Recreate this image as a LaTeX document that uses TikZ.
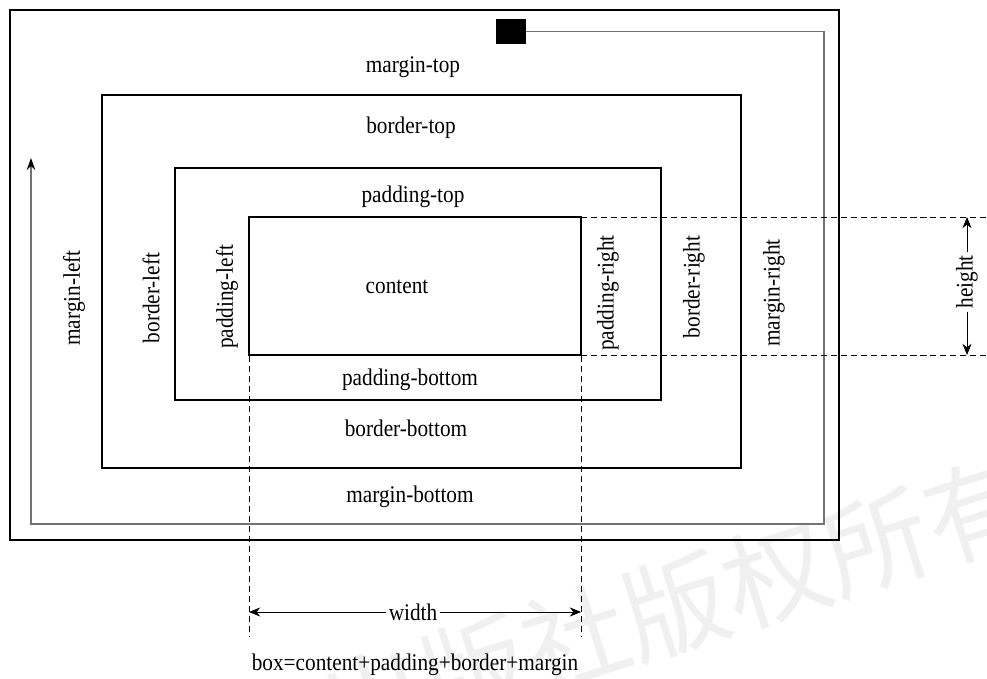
\documentclass[tikz,border=0pt]{standalone}
\usepackage{fontspec}
\setmainfont{Liberation Serif}[FakeStretch=0.89]
\newfontfamily\cjkwm{Noto Sans CJK SC}
\usetikzlibrary{arrows.meta}
\begin{document}
\begin{tikzpicture}[x=0.025cm,y=-0.025cm,
  lbl/.style={font=\fontsize{17}{20}\selectfont, inner sep=1pt},
  vlbl/.style={lbl, rotate=90},
  outerline/.style={draw=black, line width=1.6pt},
  boxline/.style={draw=black, line width=1.2pt},
  dimline/.style={draw=black, line width=0.6pt, dash pattern=on 4.3pt off 2.8pt},
  dimarrow/.style={draw=black, line width=0.6pt, -{Stealth[length=8pt,width=6.5pt]}},
  flow/.style={draw=black!55, line width=0.8pt},
]
\useasboundingbox (0,0) rectangle (987,678);
% watermark
\begin{scope}
\clip (0,0) rectangle (987,678);
\node[rotate=17.6, text=black!6, font=\cjkwm\fontsize{75}{80}\selectfont, inner sep=0] (wm) at (676,606) {出版社版权所有};
\end{scope}
% boxes
\draw[outerline] (10,10) rectangle (839,540);
\draw[boxline] (102,95) rectangle (741,468);
\draw[boxline] (175,168) rectangle (661,400);
\draw[boxline] (249,217) rectangle (581,355);
% start square and flow path
\node[fill=black, inner sep=0, minimum width=0.75cm, minimum height=0.625cm] (sq) at (511,31.5) {};
\coordinate (f1) at (824,31.5);
\coordinate (f2) at (824,524);
\coordinate (f3) at (31,524);
\coordinate (fend) at (31,158);
\draw[flow, -{Stealth[length=8.5pt,width=6pt,color=black]}] (sq.east) -- (f1) -- (f2) -- (f3) -- (fend);
% labels
\node[lbl] (mt) at (413,67) {margin-top};
\node[lbl] (bt) at (411,128) {border-top};
\node[lbl] (pt) at (413,197) {padding-top};
\node[lbl] (ct) at (397,287) {content};
\node[lbl] (pb) at (410,380) {padding-bottom};
\node[lbl] (bb) at (406,428) {border-bottom};
\node[lbl] (mb) at (410,497) {margin-bottom};
\node[vlbl] (ml) at (74,298) {margin-left};
\node[vlbl] (bl) at (151,298) {border-left};
\node[vlbl] (pl) at (227,297) {padding-left};
\node[vlbl] (pr) at (608,293) {padding-right};
\node[vlbl] (br) at (694,287) {border-right};
\node[vlbl] (mr) at (774,293) {margin-right};
% dimension guides
\coordinate (hT0) at (581,217); \coordinate (hT1) at (987,217);
\coordinate (hB0) at (581,355); \coordinate (hB1) at (987,355);
\coordinate (vL0) at (249,356); \coordinate (vL1) at (249,636);
\coordinate (vR0) at (581,356); \coordinate (vR1) at (581,636);
\draw[dimline] (hT0) -- (hT1);
\draw[dimline] (hB0) -- (hB1);
\draw[dimline] (vL0) -- (vL1);
\draw[dimline] (vR0) -- (vR1);
% height
\node[vlbl, inner sep=2pt] (h) at (967,282) {height};
\coordinate (hTop) at (967,217);
\coordinate (hBot) at (967,355);
\draw[dimarrow] (h.east) -- (hTop);
\draw[dimarrow] (h.west) -- (hBot);
% width
\node[lbl, inner sep=2pt] (w) at (413,612) {width};
\coordinate (wL) at (249,612);
\coordinate (wR) at (581,612);
\draw[dimarrow] (w.west) -- (wL);
\draw[dimarrow] (w.east) -- (wR);
% formula
\node[lbl] (f) at (415,665) {box=content+padding+border+margin};
\end{tikzpicture}
\end{document}
